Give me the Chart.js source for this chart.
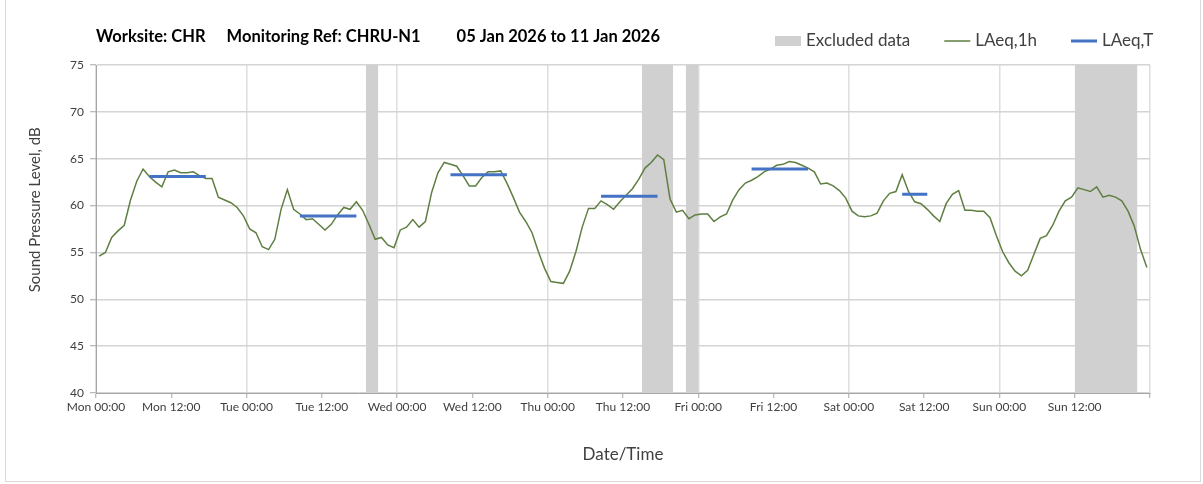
<!DOCTYPE html>
<html>
<head>
<meta charset="utf-8">
<script src="https://cdn.jsdelivr.net/npm/chart.js@4/dist/chart.umd.min.js"></script>
<style>
  body { margin: 0; background: #fff; }
  #wrap { position: relative; width: 1203px; height: 484px; }
  #frame { position: absolute; left: 5px; top: -1px; width: 1194px; height: 481px; border: 1px solid #d9d9d9; }
  #myChart { position: absolute; left: 0; top: 0; }
</style>
</head>
<body>
<div id="wrap">
  <div id="frame"></div>
  <canvas id="myChart" width="1203" height="484"></canvas>
</div>
<script>
const ctx = document.getElementById("myChart");

// title pieces
const titleParts = ["Worksite: CHR", "Monitoring Ref: CHRU-N1", "05 Jan 2026 to 11 Jan 2026"];
const dayNames = ["Mon", "Tue", "Wed", "Thu", "Fri", "Sat", "Sun"];

// hourly LAeq,1h, Mon 00:00 .. Sun 23:00 (one value per hour)
const laeq1h = [
  54.6, 55.0, 56.6, 57.3, 57.9, 60.6, 62.6, 63.9, 63.1, 62.5, 62.0, 63.6,
  63.8, 63.5, 63.5, 63.6, 63.2, 62.9, 62.9, 60.9, 60.6, 60.3, 59.8, 58.9,
  57.5, 57.1, 55.6, 55.3, 56.4, 59.6, 61.7, 59.6, 59.1, 58.5, 58.6, 58.0,
  57.4, 58.0, 59.0, 59.8, 59.6, 60.4, 59.5, 58.0, 56.4, 56.6, 55.8, 55.5,
  57.4, 57.7, 58.5, 57.7, 58.3, 61.4, 63.5, 64.6, 64.4, 64.2, 63.2, 62.1,
  62.1, 63.0, 63.6, 63.6, 63.7, 62.4, 60.9, 59.3, 58.3, 57.1, 55.1, 53.3,
  51.9, 51.8, 51.7, 53.0, 55.1, 57.7, 59.7, 59.7, 60.5, 60.1, 59.6, 60.4,
  61.1, 61.8, 62.8, 64.0, 64.6, 65.4, 64.9, 60.7, 59.3, 59.5, 58.6, 59.0,
  59.1, 59.1, 58.3, 58.8, 59.1, 60.6, 61.7, 62.4, 62.7, 63.1, 63.6, 63.9,
  64.3, 64.4, 64.7, 64.6, 64.3, 64.0, 63.6, 62.3, 62.4, 62.1, 61.6, 60.8,
  59.4, 58.9, 58.8, 58.9, 59.2, 60.5, 61.3, 61.5, 63.3, 61.5, 60.4, 60.2,
  59.6, 58.9, 58.3, 60.2, 61.2, 61.6, 59.5, 59.5, 59.4, 59.4, 58.7, 56.8,
  55.1, 53.9, 53.0, 52.5, 53.1, 54.8, 56.5, 56.8, 57.9, 59.4, 60.5, 60.9,
  61.9, 61.7, 61.5, 62.0, 60.9, 61.1, 60.9, 60.5, 59.4, 57.8, 55.3, 53.4
];

// LAeq,T daytime periods (hours from Mon 00:00)
const periodStart = [8.5, 32.5, 56.5, 80.5, 104.5, 128.5];
const periodEnd   = [17.5, 41.5, 65.5, 89.5, 113.5, 132.5];
const periodLevel = [63.1, 58.9, 63.3, 61.0, 63.9, 61.2];

// excluded data windows (hours from Mon 00:00)
const exclStart = [43, 87, 94, 156];
const exclEnd   = [45, 92, 96, 166];

const Y_MIN = 40, Y_MAX = 75;

const lineData = laeq1h.map((v, i) => ({ x: i + 0.5, y: v }));

const periodData = [];
for (let i = 0; i < periodStart.length; i++) {
  periodData.push({ x: periodStart[i], y: periodLevel[i] });
  periodData.push({ x: periodEnd[i], y: periodLevel[i] });
  periodData.push({ x: periodEnd[i], y: null });
}

const exclData = [];
for (let i = 0; i < exclStart.length; i++) {
  exclData.push({ x: exclStart[i], y: Y_MAX });
  exclData.push({ x: exclEnd[i], y: Y_MAX });
  exclData.push({ x: exclEnd[i], y: null });
}

const FONT = "Lato";

// title drawn on the left, legend on the right of the same row
const headerPlugin = {
  id: "header",
  afterDraw(chart) {
    const c = chart.ctx;
    const area = chart.chartArea;
    c.save();
    c.textBaseline = "middle";
    c.fillStyle = "#000";
    c.font = "bold 16.5px " + FONT;
    let x = area.left;
    const gaps = [21, 36];
    titleParts.forEach((t, i) => {
      c.fillText(t, x, 37);
      x += c.measureText(t).width + (gaps[i] || 0);
    });

    c.font = "17px " + FONT;
    let lx = 775;
    const ly = 41;
    chart.data.datasets.forEach(ds => {
      if (ds.fill) {
        c.fillStyle = ds.backgroundColor;
        c.fillRect(lx, ly - 5, 26, 10);
      } else {
        c.strokeStyle = ds.borderColor;
        c.lineWidth = ds.borderWidth;
        c.beginPath();
        c.moveTo(lx, ly);
        c.lineTo(lx + 26, ly);
        c.stroke();
      }
      lx += 31;
      c.fillStyle = "#404040";
      c.fillText(ds.label, lx, ly);
      lx += c.measureText(ds.label).width + 34;
    });
    c.restore();
  }
};

new Chart(ctx, {
  type: "line",
  data: {
    datasets: [
      {
        label: "Excluded data",
        data: exclData,
        backgroundColor: "#d0d0d0",
        borderWidth: 0,
        borderColor: "rgba(0,0,0,0)",
        fill: "start",
        pointRadius: 0,
        spanGaps: false,
        order: 3,
      },
      {
        label: "LAeq,1h",
        data: lineData,
        borderColor: "#5e7f41",
        borderWidth: 1.5,
        fill: false,
        pointRadius: 0,
        tension: 0,
        order: 2,
      },
      {
        label: "LAeq,T",
        data: periodData,
        borderColor: "#4472c4",
        borderWidth: 3,
        fill: false,
        pointRadius: 0,
        spanGaps: false,
        order: 1,
      }
    ]
  },
  options: {
    responsive: false,
    animation: false,
    layout: { padding: { left: 22, right: 53, top: 65, bottom: 3 } },
    plugins: {
      legend: { display: false },
      title: { display: false },
      tooltip: { enabled: false },
    },
    scales: {
      x: {
        type: "linear",
        min: 0,
        max: 168,
        afterFit(scale) { scale.height = 88; },
        border: { color: "#a6a6a6", width: 1 },
        grid: {
          color: (c) => (c.tick && c.tick.value % 24 === 0 ? "#dedede" : "rgba(0,0,0,0)"),
          lineWidth: 1.5,
          tickColor: "#a6a6a6",
          tickLength: 5,
          tickWidth: 1,
        },
        ticks: {
          stepSize: 12,
          autoSkip: false,
          maxRotation: 0,
          color: "#404040",
          font: { family: FONT, size: 12 },
          padding: 2,
          callback: (v) => {
            if (v >= 168) return "";
            const d = dayNames[Math.floor(v / 24)];
            return d + " " + (v % 24 === 0 ? "00:00" : "12:00");
          }
        },
        title: {
          display: true,
          text: "Date/Time",
          color: "#404040",
          font: { family: FONT, size: 17 },
          padding: { top: 4, bottom: 16 },
        }
      },
      y: {
        min: Y_MIN,
        max: Y_MAX,
        afterFit(scale) { scale.width = 74; },
        border: { color: "#a6a6a6", width: 1 },
        grid: {
          color: "#d4d4d4",
          lineWidth: 1.5,
          tickColor: "#a6a6a6",
          tickLength: 6,
          tickWidth: 1,
        },
        ticks: {
          stepSize: 5,
          color: "#404040",
          font: { family: FONT, size: 12 },
          padding: 6,
        },
        title: {
          display: true,
          // leading spaces lift the text a little above the axis centre
          text: "          Sound Pressure Level, dB",
          color: "#404040",
          font: { family: FONT, size: 15 },
          padding: { bottom: 14 },
        }
      }
    }
  },
  plugins: [headerPlugin]
});
</script>
</body>
</html>
